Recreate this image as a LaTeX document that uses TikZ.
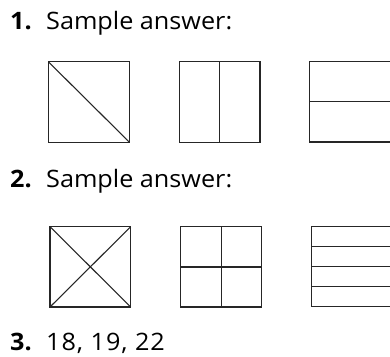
\documentclass[tikz,border=0pt]{standalone}
\usepackage{fontspec}
\setmainfont{Open Sans}[FakeStretch=1.05]
\begin{document}
\begin{tikzpicture}[x=1pt,y=-1pt,
  num/.style={anchor=base west,inner sep=0pt,font=\fontsize{24}{28}\selectfont\bfseries},
  txt/.style={anchor=base west,inner sep=0pt,font=\fontsize{24}{28}\selectfont},
  fig/.style={draw=black!85,line width=1.1pt}]
\useasboundingbox (0,0) rectangle (390,356);
% row labels
\node[num] (n1) at (10,29.3) {1.};
\node[txt] (t1) at (46,29.3) {Sample answer:};
\node[num] (n2) at (10,187.7) {2.};
\node[txt] (t2) at (46,187.7) {Sample answer:};
\node[num] (n3) at (10,350) {3.};
\node[txt] (t3) at (46,350) {\addfontfeature{LetterSpace=4}18, 19, 22};
% row 1
\draw[fig] (48.3,61.7) rectangle (129.5,142.3);
\draw[fig] (48.3,61.7) -- (129.5,142.3);
\draw[fig] (179.3,61.7) rectangle (260,142.3);
\draw[fig] (219.5,61.7) -- (219.5,142.3);
\draw[fig] (309.8,61.7) rectangle (391,142);
\draw[fig] (309.8,101.8) -- (391,101.8);
% row 2
\draw[fig] (50,226.7) rectangle (130.7,307);
\draw[fig] (50,226.7) -- (130.7,307);
\draw[fig] (130.7,226.7) -- (50,307);
\draw[fig] (180.7,226.7) rectangle (261.7,307);
\draw[fig] (221.2,226.7) -- (221.2,307);
\draw[fig] (180.7,267) -- (261.7,267);
\draw[fig] (311.7,226.7) rectangle (392,306.5);
\draw[fig] (311.7,246.7) -- (392,246.7);
\draw[fig] (311.7,266.7) -- (392,266.7);
\draw[fig] (311.7,286.7) -- (392,286.7);
\end{tikzpicture}
\end{document}
